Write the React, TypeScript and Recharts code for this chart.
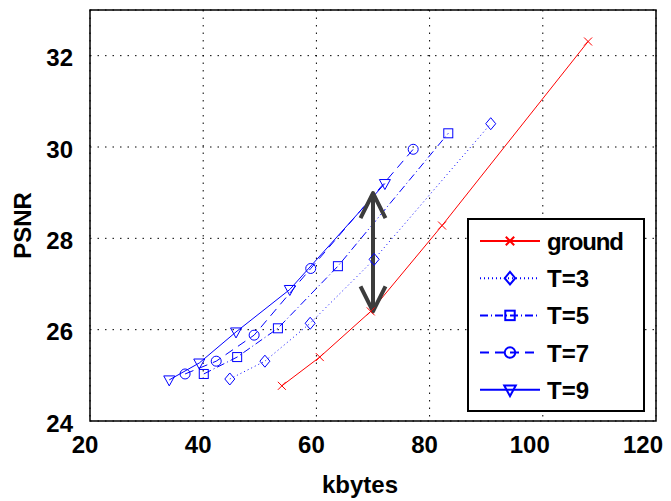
import {
  CartesianGrid,
  Legend,
  Line,
  LineChart,
  ReferenceArea,
  ReferenceLine,
  XAxis,
  YAxis,
} from 'recharts';

// values
const groundX = [53.9, 60.6, 69.6, 82.2, 108.0];
const groundY = [24.77, 25.4, 26.4, 28.28, 32.31];
const t3X = [44.7, 50.9, 58.9, 70.2, 90.8];
const t3Y = [24.92, 25.31, 26.14, 27.54, 30.51];
const t5X = [40.1, 46.0, 53.2, 63.8, 83.3];
const t5Y = [25.03, 25.4, 26.03, 27.39, 30.3];
const t7X = [36.8, 42.3, 49.0, 59.0, 77.1];
const t7Y = [25.03, 25.31, 25.88, 27.34, 29.95];
const t9X = [34.0, 39.3, 45.8, 55.3, 72.1];
const t9Y = [24.9, 25.27, 25.95, 26.88, 29.2];

const xTicks = [20, 40, 60, 80, 100, 120];
const yTicks = [24, 26, 28, 30, 32];
const arrowX = 70;
const arrowFrom = 26.4;
const arrowTo = 28.99;

const FONT = '"Liberation Sans", Arial, sans-serif';
const BLUE = '#0000ff';
const RED = '#ff0000';

type Kind = 'x' | 'diamond' | 'square' | 'circle' | 'triangle';

const zip = (xs: number[], ys: number[]) => xs.map((x, i) => ({ x, y: ys[i] }));

const series = [
  { name: 'ground', data: zip(groundX, groundY), color: RED, dash: undefined, kind: 'x' as Kind },
  { name: 'T=3', data: zip(t3X, t3Y), color: BLUE, dash: '1 3', kind: 'diamond' as Kind },
  { name: 'T=5', data: zip(t5X, t5Y), color: BLUE, dash: '8 3 1 3', kind: 'square' as Kind },
  { name: 'T=7', data: zip(t7X, t7Y), color: BLUE, dash: '9 6', kind: 'circle' as Kind },
  { name: 'T=9', data: zip(t9X, t9Y), color: BLUE, dash: undefined, kind: 'triangle' as Kind },
];

function Marker({ kind, cx, cy, color, s = 1, sw = 1 }: { kind: Kind; cx: number; cy: number; color: string; s?: number; sw?: number }) {
  const common = { fill: 'none', stroke: color, strokeWidth: sw };
  if (kind === 'x') {
    const r = 4 * s;
    return (
      <path d={`M${cx - r},${cy - r}L${cx + r},${cy + r}M${cx - r},${cy + r}L${cx + r},${cy - r}`} {...common} />
    );
  }
  if (kind === 'diamond') {
    const w = 5 * s;
    const h = 6 * s;
    return <path d={`M${cx},${cy - h}L${cx + w},${cy}L${cx},${cy + h}L${cx - w},${cy}Z`} {...common} />;
  }
  if (kind === 'square') {
    const r = 4.5 * s;
    return <rect x={cx - r} y={cy - r} width={2 * r} height={2 * r} {...common} />;
  }
  if (kind === 'circle') {
    return <circle cx={cx} cy={cy} r={5 * s} {...common} />;
  }
  const w = 5.5 * s;
  return <path d={`M${cx - w},${cy - 4 * s}L${cx + w},${cy - 4 * s}L${cx},${cy + 6 * s}Z`} {...common} />;
}

function Arrow(props: any) {
  const { x1, y1, x2, y2 } = props;
  const head = (tx: number, ty: number, dir: number) => (
    <path
      d={`M${tx - 12.5},${ty + dir * 25}L${tx},${ty}L${tx + 12.5},${ty + dir * 25}`}
      fill="none"
      stroke="#3c3c3c"
      strokeWidth={4}
      strokeLinejoin="round"
    />
  );
  const top = Math.min(y1, y2);
  const bottom = Math.max(y1, y2);
  return (
    <g>
      <line x1={x1} y1={top} x2={x2} y2={bottom} stroke="#3c3c3c" strokeWidth={4} />
      {head(x1, top, 1)}
      {head(x1, bottom, -1)}
    </g>
  );
}

function LegendBox() {
  return (
    <svg width={178} height={194} style={{ display: 'block' }}>
      <rect x={1} y={1} width={176} height={192} fill="#fff" stroke="#000" strokeWidth={2} />
      {series.map((s, i) => {
        const cy = 23 + i * 37.2;
        return (
          <g key={s.name}>
            <line x1={13} x2={73} y1={cy} y2={cy} stroke={s.color} strokeWidth={2} strokeDasharray={s.dash} />
            <Marker kind={s.kind} cx={43} cy={cy} color={s.color} s={1.05} sw={2} />
            <text x={80} y={cy + 9} fontFamily={FONT} fontWeight="bold" fontSize={24} fill="#000" textLength={s.name === 'ground' ? 77 : undefined}>
              {s.name}
            </text>
          </g>
        );
      })}
    </svg>
  );
}

const XTick = (p: any) => {
  const v = p.payload.value;
  const dx = v >= 100 ? -13 : -5;
  return (
    <text x={p.x + dx} y={p.y} dy="0.71em" textAnchor="middle" fontFamily={FONT} fontWeight="bold" fontSize={24} fill="#000">
      {v}
    </text>
  );
};

const YTick = (p: any) => (
  <text x={p.x} y={p.y + 2} dy="0.355em" textAnchor="end" fontFamily={FONT} fontWeight="bold" fontSize={24} fill="#000">
    {p.payload.value}
  </text>
);

export default function App() {
  return (
    <div style={{ position: 'absolute', left: 0, top: 0, background: '#fff', fontFamily: FONT }}>
      <LineChart width={671} height={501} margin={{ top: 10, right: 15, left: 0, bottom: 0 }}>
        <CartesianGrid stroke="#000" strokeDasharray="1.5 6" strokeWidth={1} />
        <XAxis
          type="number"
          dataKey="x"
          domain={[20, 120]}
          ticks={xTicks}
          height={80}
          axisLine={false}
          tickLine={false}
          tickSize={0}
          tickMargin={15}
          tick={XTick}
          allowDataOverflow
          label={{
            content: (p: any) => {
              const vb = p.viewBox;
              return (
                <text x={vb.x + vb.width / 2 - 13} y={vb.y + vb.height - 8} textAnchor="middle" fontFamily={FONT} fontWeight="bold" fontSize={24} fill="#000">
                  kbytes
                </text>
              );
            },
          }}
        />
        <YAxis
          type="number"
          dataKey="y"
          domain={[24, 33]}
          ticks={yTicks}
          width={90}
          axisLine={false}
          tickLine={false}
          tickSize={0}
          tickMargin={17}
          tick={YTick}
          allowDataOverflow
          label={{
            content: (p: any) => {
              const vb = p.viewBox;
              const cx = vb.x + 31;
              const cy = vb.y + vb.height / 2 + 10;
              return (
                <text x={cx} y={cy} transform={`rotate(-90 ${cx} ${cy})`} textAnchor="middle" fontFamily={FONT} fontWeight="bold" fontSize={24} fill="#000">
                  PSNR
                </text>
              );
            },
          }}
        />
        <ReferenceArea x1={20} x2={120} y1={24} y2={33} fill="none" stroke="#000" strokeWidth={1.5} fillOpacity={0} />
        {series.map((s) => (
          <Line
            key={s.name}
            data={s.data}
            dataKey="y"
            name={s.name}
            type="linear"
            stroke={s.color}
            strokeWidth={1}
            strokeDasharray={s.dash}
            isAnimationActive={false}
            dot={(p: any) => <Marker key={`${s.name}-${p.index}`} kind={s.kind} cx={p.cx} cy={p.cy} color={s.color} />}
            activeDot={false}
          />
        ))}
        <ReferenceLine
          segment={[
            { x: arrowX, y: arrowFrom },
            { x: arrowX, y: arrowTo },
          ]}
          shape={Arrow}
        />
        <Legend
          layout="vertical"
          align="center"
          verticalAlign="middle"
          content={() => <LegendBox />}
          wrapperStyle={{ left: 467, top: 218, width: 178, height: 194 }}
        />
      </LineChart>
    </div>
  );
}
